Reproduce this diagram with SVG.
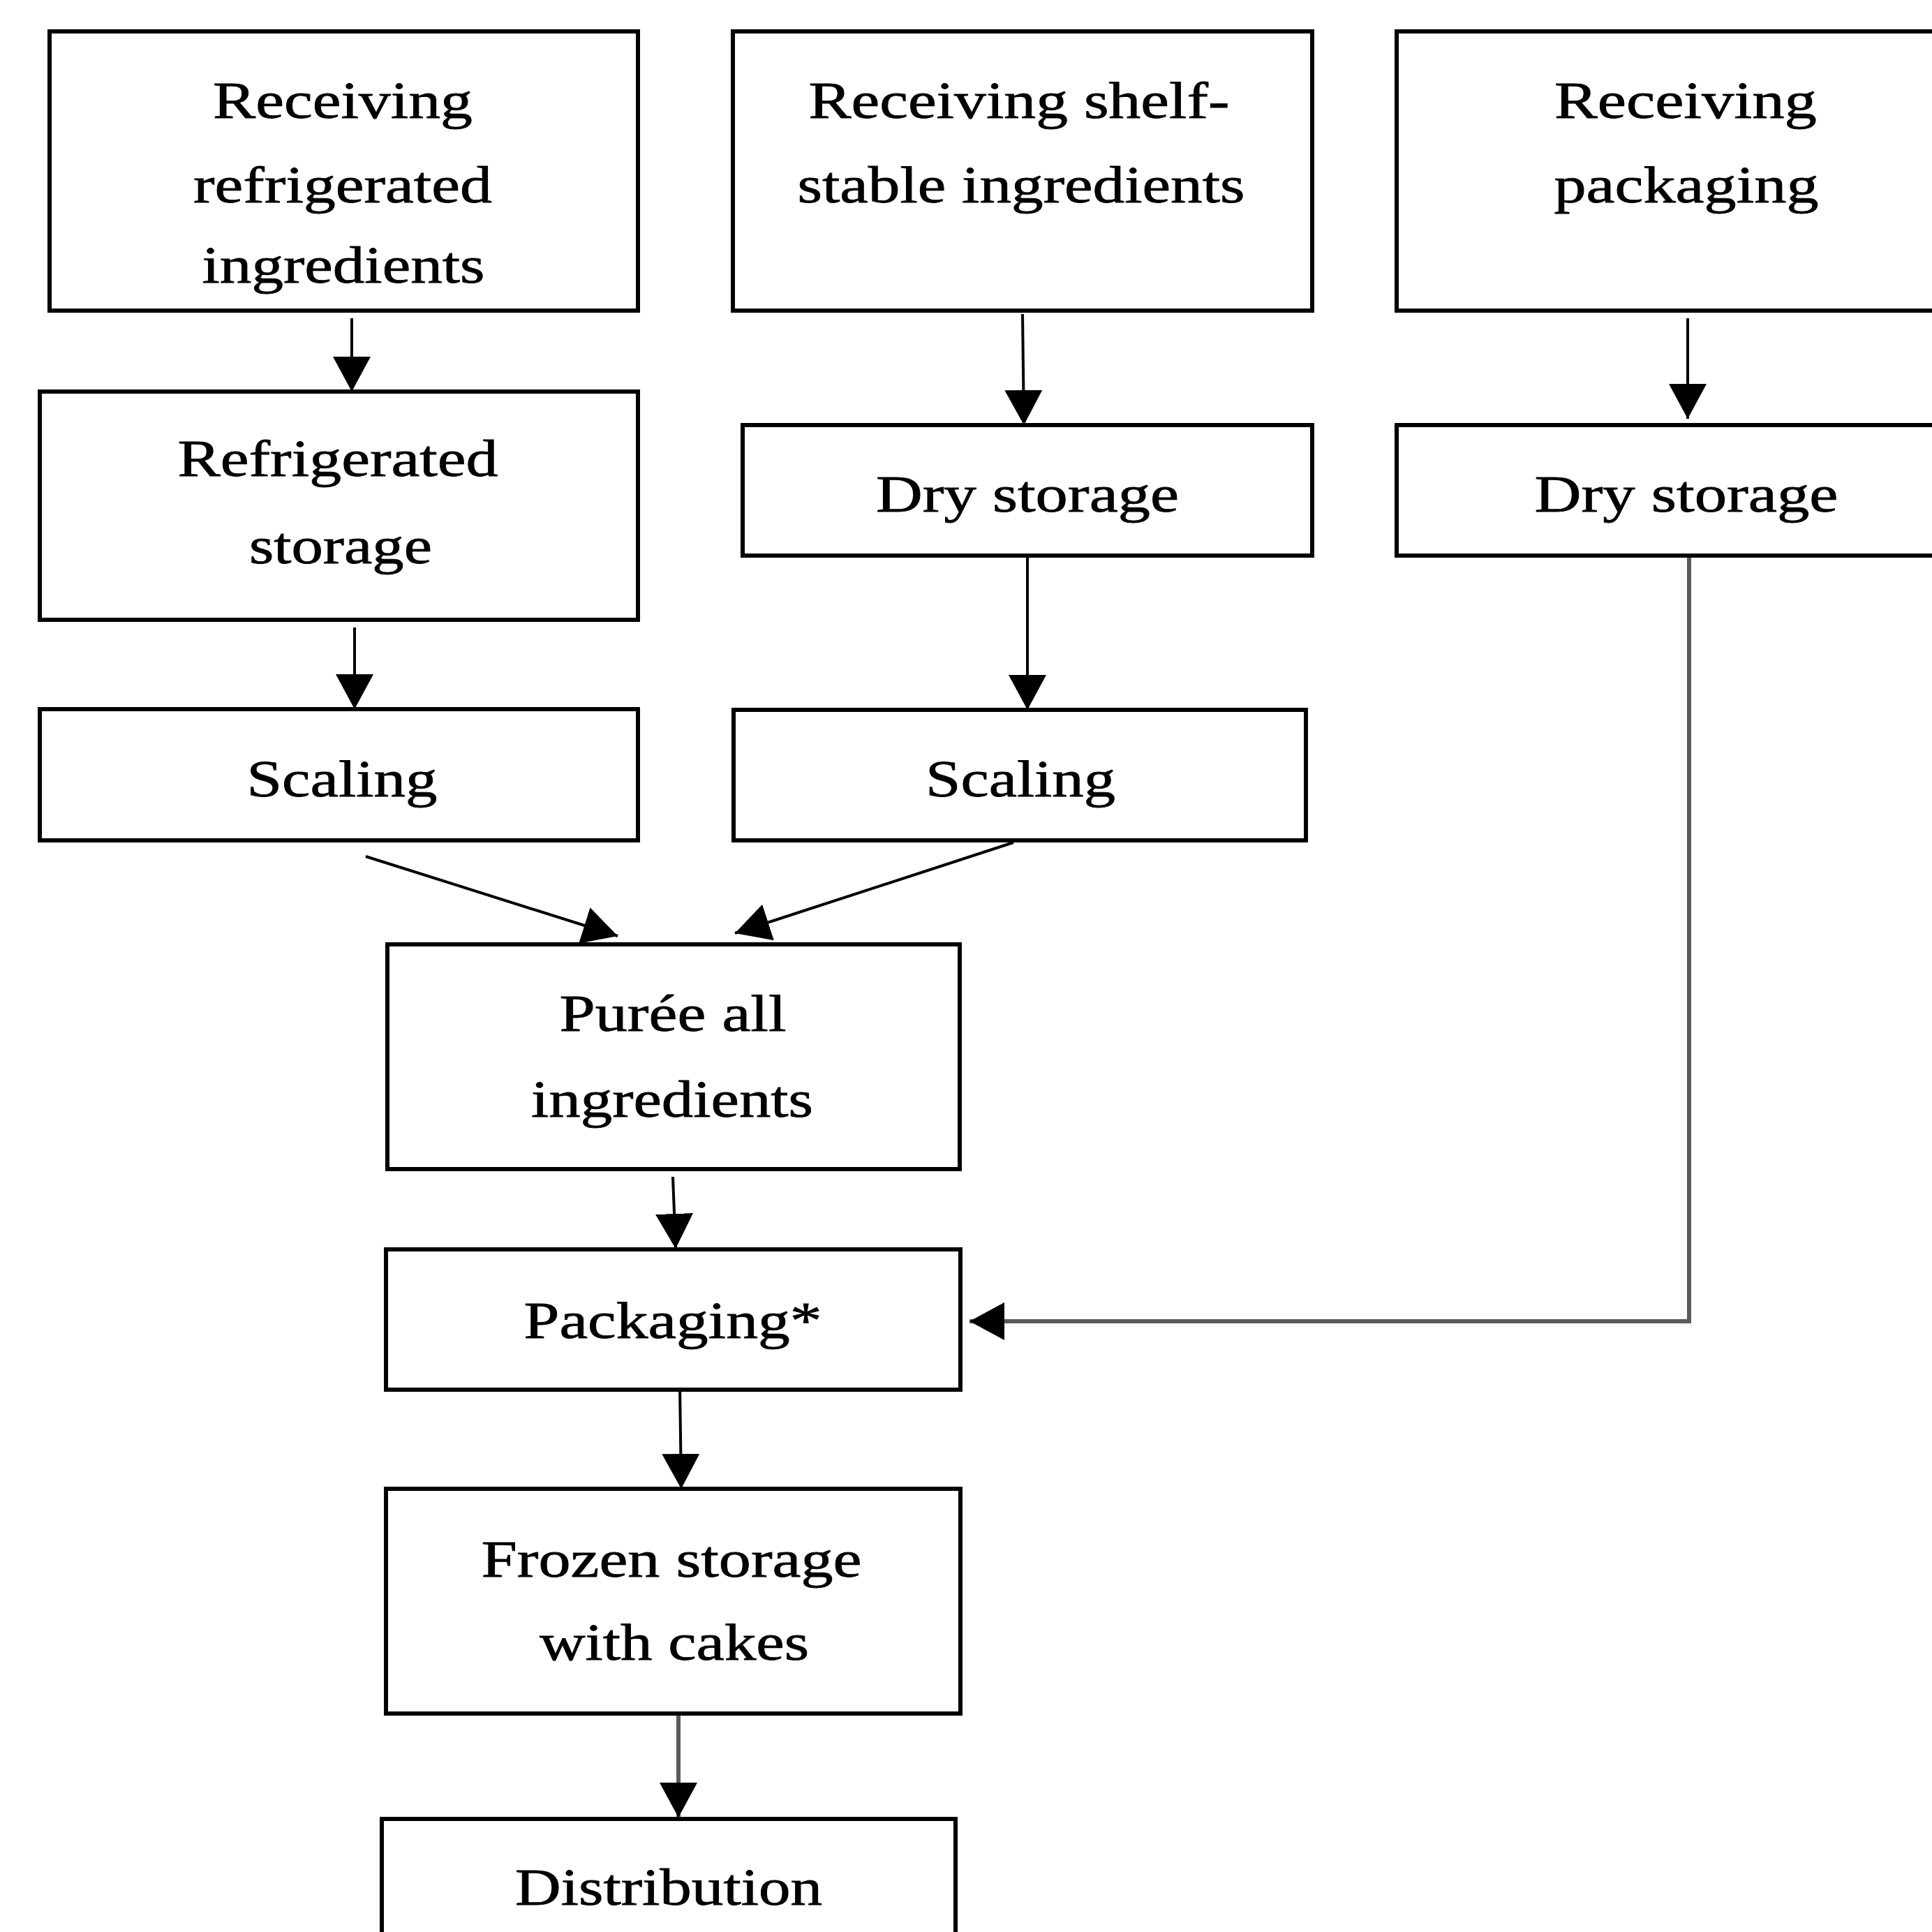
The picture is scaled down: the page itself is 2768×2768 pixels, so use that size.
<svg xmlns="http://www.w3.org/2000/svg" width="2768" height="2768" viewBox="0 0 2768 2768">
<defs>
<style>
.box{fill:#fff;stroke:#000;stroke-width:6}
.lbl{font-family:"Liberation Serif","Times New Roman",serif;font-size:74px;fill:#000;stroke:#000;stroke-width:0.8;text-anchor:middle}
.con{fill:none;stroke:#000;stroke-width:4}
.con-g{fill:none;stroke:#5a5a5a;stroke-width:6}
</style>
<marker id="ah" markerUnits="userSpaceOnUse" markerWidth="60" markerHeight="60" refX="50" refY="27" orient="auto" viewBox="0 0 60 60">
<path d="M0,0 L50,27 L0,54 z" fill="#000"/>
</marker>
</defs>
<rect width="2768" height="2768" fill="#fff"/>

<g id="connectors">
<line class="con" x1="504" y1="456" x2="504" y2="561" marker-end="url(#ah)"/>
<line class="con" x1="508" y1="899" x2="508" y2="1016" marker-end="url(#ah)"/>
<line class="con" x1="1465" y1="450" x2="1467" y2="609" marker-end="url(#ah)"/>
<line class="con" x1="1472" y1="797" x2="1472" y2="1017" marker-end="url(#ah)"/>
<line class="con" x1="2418" y1="456" x2="2418" y2="600" marker-end="url(#ah)"/>
<line class="con" x1="524" y1="1227" x2="885" y2="1341" marker-end="url(#ah)"/>
<line class="con" x1="1452" y1="1207" x2="1053" y2="1337" marker-end="url(#ah)"/>
<line class="con" x1="964" y1="1686" x2="968" y2="1789" marker-end="url(#ah)"/>
<line class="con" x1="974" y1="1983" x2="976" y2="2133" marker-end="url(#ah)"/>
<line class="con-g" x1="972" y1="2455" x2="972" y2="2604" marker-end="url(#ah)"/>
<path class="con-g" d="M2420,796 V1893 H1389" marker-end="url(#ah)"/>
</g>

<g id="n-recv-refrig">
<rect class="box" x="71" y="45" width="843" height="400"/>
<text class="lbl" x="491" y="169" textLength="372" lengthAdjust="spacingAndGlyphs">Receiving</text>
<text class="lbl" x="491" y="290" textLength="428" lengthAdjust="spacingAndGlyphs">refrigerated</text>
<text class="lbl" x="492" y="405" textLength="405" lengthAdjust="spacingAndGlyphs">ingredients</text>
</g>

<g id="n-refrig-storage">
<rect class="box" x="57" y="561" width="857" height="327"/>
<text class="lbl" x="484" y="682" textLength="459" lengthAdjust="spacingAndGlyphs">Refrigerated</text>
<text class="lbl" x="488" y="807" textLength="262" lengthAdjust="spacingAndGlyphs">storage</text>
</g>

<g id="n-scaling-1">
<rect class="box" x="57" y="1016" width="857" height="188"/>
<text class="lbl" x="490" y="1141" textLength="273" lengthAdjust="spacingAndGlyphs">Scaling</text>
</g>

<g id="n-recv-shelf">
<rect class="box" x="1050" y="45" width="830" height="400"/>
<text class="lbl" x="1460" y="169" textLength="603" lengthAdjust="spacingAndGlyphs">Receiving shelf-</text>
<text class="lbl" x="1463" y="290" textLength="641" lengthAdjust="spacingAndGlyphs">stable ingredients</text>
</g>

<g id="n-dry-storage-1">
<rect class="box" x="1064" y="609" width="816" height="187"/>
<text class="lbl" x="1472" y="733" textLength="434" lengthAdjust="spacingAndGlyphs">Dry storage</text>
</g>

<g id="n-scaling-2">
<rect class="box" x="1051" y="1017" width="820" height="187"/>
<text class="lbl" x="1462" y="1141" textLength="272" lengthAdjust="spacingAndGlyphs">Scaling</text>
</g>

<g id="n-recv-packaging">
<rect class="box" x="2001" y="45" width="800" height="400"/>
<text class="lbl" x="2415" y="169" textLength="376" lengthAdjust="spacingAndGlyphs">Receiving</text>
<text class="lbl" x="2416" y="290" textLength="379" lengthAdjust="spacingAndGlyphs">packaging</text>
</g>

<g id="n-dry-storage-2">
<rect class="box" x="2001" y="609" width="800" height="187"/>
<text class="lbl" x="2416" y="733" textLength="435" lengthAdjust="spacingAndGlyphs">Dry storage</text>
</g>

<g id="n-puree">
<rect class="box" x="555" y="1353" width="820" height="322"/>
<text class="lbl" x="964" y="1477" textLength="325" lengthAdjust="spacingAndGlyphs">Purée all</text>
<text class="lbl" x="963" y="1600" textLength="404" lengthAdjust="spacingAndGlyphs">ingredients</text>
</g>

<g id="n-packaging">
<rect class="box" x="553" y="1790" width="823" height="201"/>
<text class="lbl" x="964" y="1917" textLength="427" lengthAdjust="spacingAndGlyphs">Packaging*</text>
</g>

<g id="n-frozen">
<rect class="box" x="553" y="2133" width="823" height="322"/>
<text class="lbl" x="962" y="2259" textLength="545" lengthAdjust="spacingAndGlyphs">Frozen storage</text>
<text class="lbl" x="966" y="2378" textLength="386" lengthAdjust="spacingAndGlyphs">with cakes</text>
</g>

<g id="n-distribution">
<rect class="box" x="547" y="2606" width="822" height="200"/>
<text class="lbl" x="958" y="2729" textLength="440" lengthAdjust="spacingAndGlyphs">Distribution</text>
</g>
</svg>
